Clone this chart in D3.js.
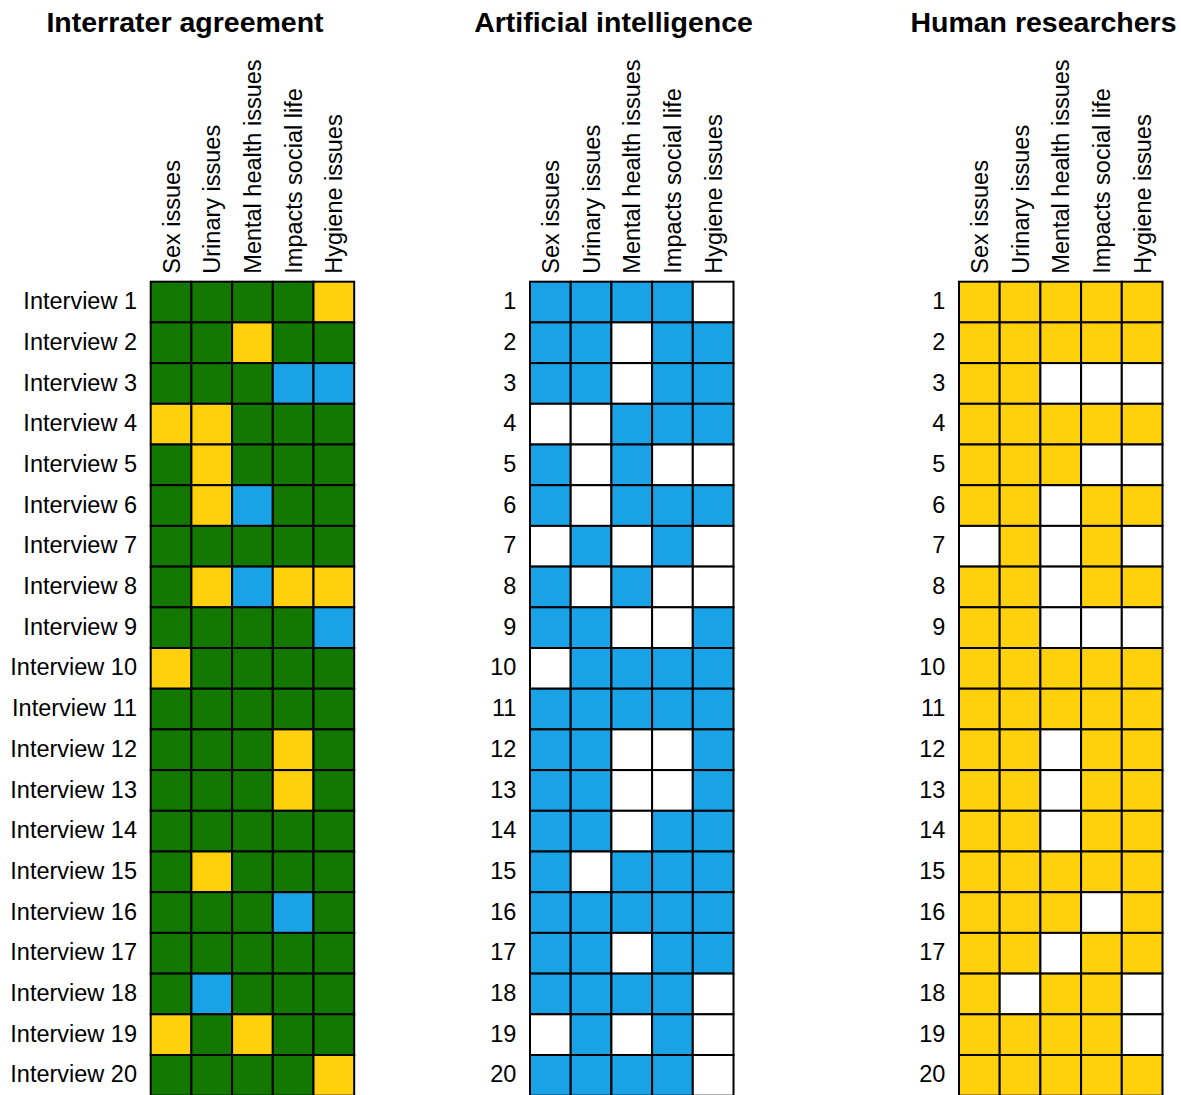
<!DOCTYPE html>
<html>
<head>
<meta charset="utf-8">
<script src="https://cdn.jsdelivr.net/npm/d3@7"></script>
<style>
  html, body { margin: 0; padding: 0; background: #fff; }
  svg { display: block; font-family: "Liberation Sans", Arial, Helvetica, sans-serif; }
</style>
</head>
<body>
<svg id="chart" width="1181" height="1095"></svg>
<script>
// ---- Data ----
const categories = ["Sex issues", "Urinary issues", "Mental health issues", "Impacts social life", "Hygiene issues"];
const interviews = d3.range(1, 21);
const panelTitles = ["Interrater agreement", "Artificial intelligence", "Human researchers"];

// Interrater agreement: A = both agree, H = human researchers only, I = AI only
const agreement = [
  "AAAAH", "AAHAA", "AAAII", "HHAAA", "AHAAA",
  "AHIAA", "AAAAA", "AHIHH", "AAAAI", "HAAAA",
  "AAAAA", "AAAHA", "AAAHA", "AAAAA", "AHAAA",
  "AAAIA", "AAAAA", "AIAAA", "HAHAA", "AAAAH"
];
// Artificial intelligence: 1 = theme identified
const aiValues = [
  [1,1,1,1,0],[1,1,0,1,1],[1,1,0,1,1],[0,0,1,1,1],[1,0,1,0,0],
  [1,0,1,1,1],[0,1,0,1,0],[1,0,1,0,0],[1,1,0,0,1],[0,1,1,1,1],
  [1,1,1,1,1],[1,1,0,0,1],[1,1,0,0,1],[1,1,0,1,1],[1,0,1,1,1],
  [1,1,1,1,1],[1,1,0,1,1],[1,1,1,1,0],[0,1,0,1,0],[1,1,1,1,0]
];
// Human researchers: 1 = theme identified
const humanValues = [
  [1,1,1,1,1],[1,1,1,1,1],[1,1,0,0,0],[1,1,1,1,1],[1,1,1,0,0],
  [1,1,0,1,1],[0,1,0,1,0],[1,1,0,1,1],[1,1,0,0,0],[1,1,1,1,1],
  [1,1,1,1,1],[1,1,0,1,1],[1,1,0,1,1],[1,1,0,1,1],[1,1,1,1,1],
  [1,1,1,0,1],[1,1,0,1,1],[1,0,1,1,0],[1,1,1,1,0],[1,1,1,1,1]
];

// ---- Styles ----
const GREEN = "#127800", BLUE = "#19a2e6", YELLOW = "#ffd10d", WHITE = "#ffffff";
const agreeColor = { A: GREEN, H: YELLOW, I: BLUE };

const svg = d3.select("#chart");

const gridTop = 281.7, cellSize = 40.7;
const panels = [
  { title: panelTitles[0], left: 150.7, titleX: 185,
    rowLabel: i => "Interview " + i,
    color: (r, c) => agreeColor[agreement[r][c]] },
  { title: panelTitles[1], left: 530, titleX: 613.5,
    rowLabel: i => String(i),
    color: (r, c) => aiValues[r][c] ? BLUE : WHITE },
  { title: panelTitles[2], left: 959, titleX: 1043.5,
    rowLabel: i => String(i),
    color: (r, c) => humanValues[r][c] ? YELLOW : WHITE }
];

panels.forEach(p => {
  const x = d3.scaleBand().domain(categories).range([p.left, p.left + cellSize * categories.length]).padding(0);
  const y = d3.scaleBand().domain(interviews).range([gridTop, gridTop + cellSize * interviews.length]).padding(0);
  const g = svg.append("g");

  // title
  g.append("text")
    .attr("x", p.titleX).attr("y", 32)
    .attr("text-anchor", "middle")
    .attr("font-size", 28.5).attr("font-weight", "bold")
    .attr("fill", "#000")
    .text(p.title);

  // cells
  const cells = [];
  interviews.forEach((iv, r) => categories.forEach((cat, c) => cells.push({ iv, r, cat, c })));
  g.selectAll("rect.cell").data(cells).join("rect")
    .attr("class", "cell")
    .attr("x", d => x(d.cat)).attr("y", d => y(d.iv))
    .attr("width", x.bandwidth()).attr("height", y.bandwidth())
    .attr("fill", d => p.color(d.r, d.c))
    .attr("stroke", "#000").attr("stroke-width", 2);

  // column labels (rotated)
  g.selectAll("text.col").data(categories).join("text")
    .attr("class", "col")
    .attr("transform", d => `translate(${x(d) + x.bandwidth() / 2},${gridTop - 8}) rotate(-90)`)
    .attr("dy", "0.36em")
    .attr("text-anchor", "start")
    .attr("font-size", 23.5).attr("fill", "#000")
    .text(d => d);

  // row labels
  g.selectAll("text.row").data(interviews).join("text")
    .attr("class", "row")
    .attr("x", p.left - 13.7)
    .attr("y", d => y(d) + y.bandwidth() / 2)
    .attr("dy", "0.3em")
    .attr("text-anchor", "end")
    .attr("font-size", 23.5).attr("fill", "#000")
    .text(d => p.rowLabel(d));
});
</script>
</body>
</html>
